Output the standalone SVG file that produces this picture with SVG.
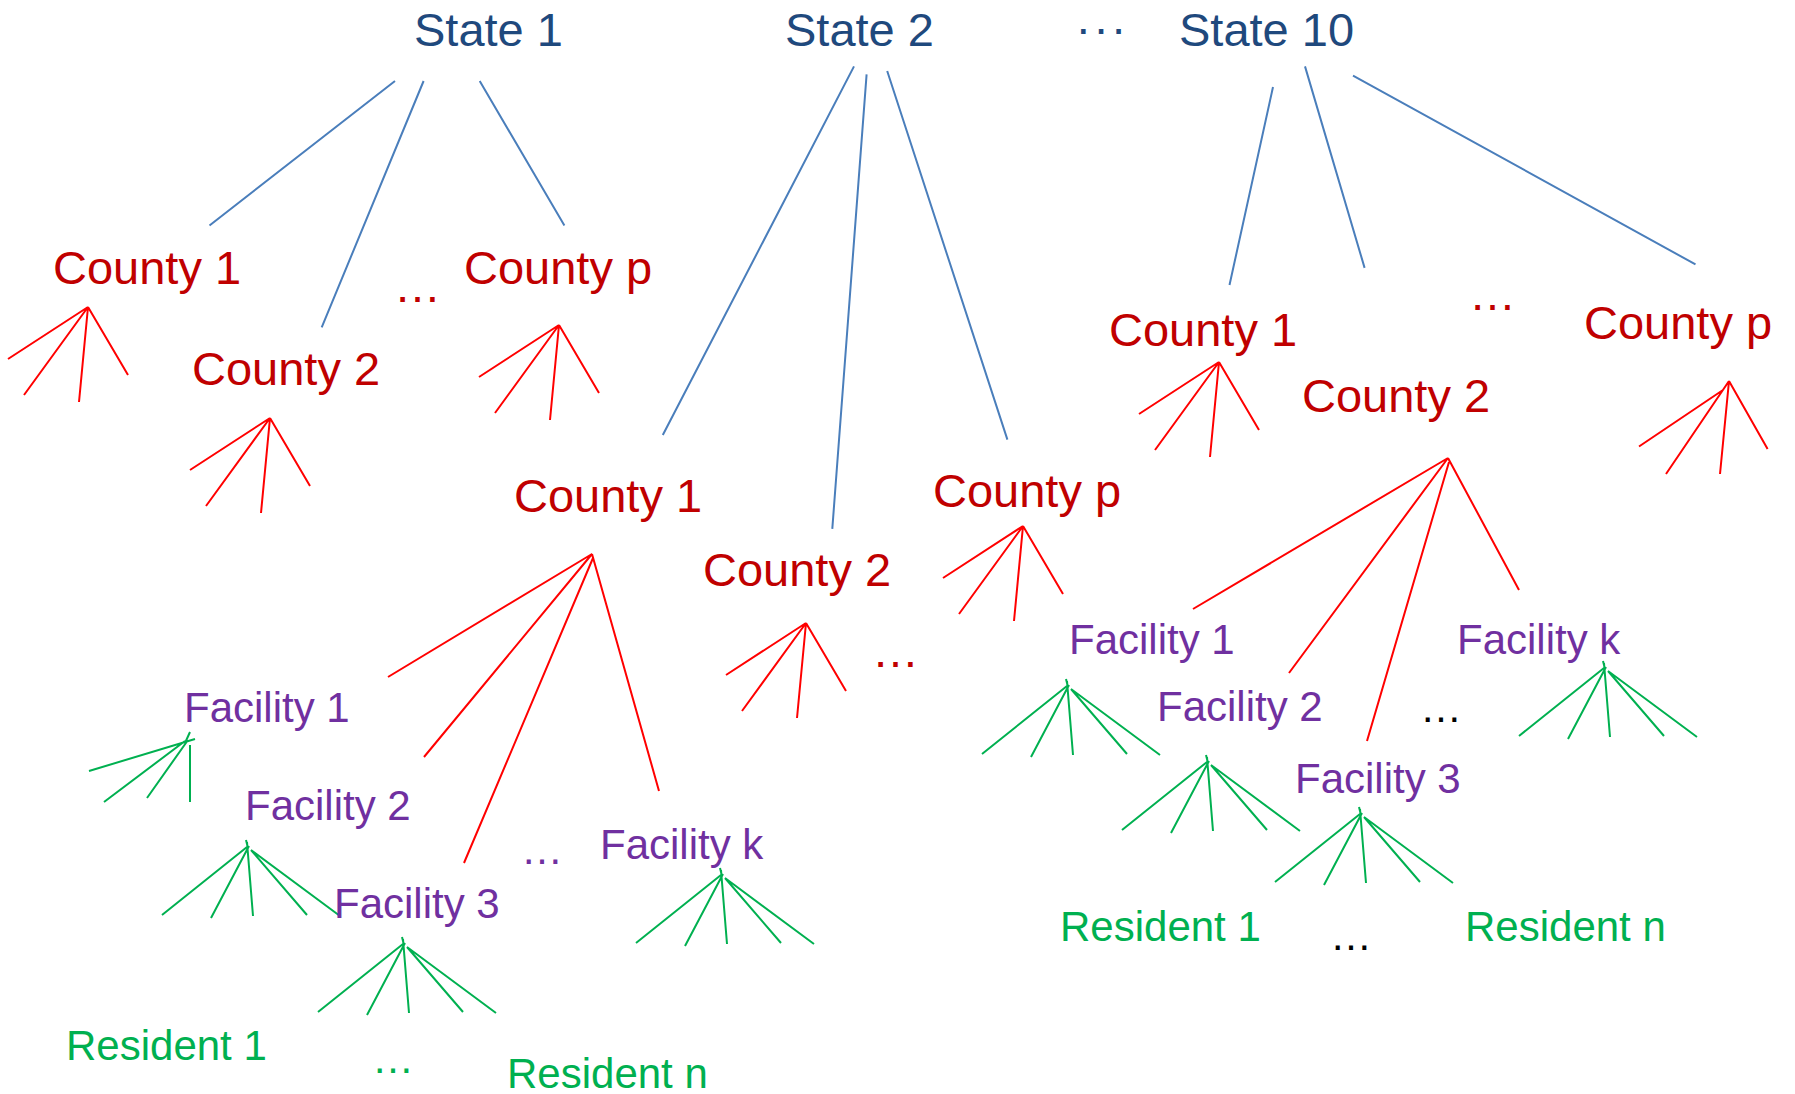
<svg xmlns="http://www.w3.org/2000/svg" width="1795" height="1094" viewBox="0 0 1795 1094">
<style>
text{font-family:"Liberation Sans",Arial,sans-serif}
.st{fill:#1F497D;font-size:47px}
.co{fill:#C00000;font-size:47px}
.fa{fill:#7030A0;font-size:42px}
.re{fill:#00B050;font-size:42px}
.dk{fill:#000000;font-size:42px}
.b{stroke:#4A7EBB;stroke-width:2;fill:none}
.r{stroke:#FF0000;stroke-width:2;fill:none}
.g{stroke:#00B050;stroke-width:2;fill:none}
</style>
<defs>
<path id="rfan" class="r" d="M0 0L-80 52M0 0L-64 88M0 0L-9 95M0 0L40 68"/>
<path id="gfan" class="g" d="M-1 -5L1 3M0 2L-85 70M2 1L-36 73M0 -3L6 71M4 5L60 70M4 5L93 71"/>
</defs>
<rect width="1795" height="1094" fill="#FFFFFF"/>
<g id="connectors">
<g id="state-links">
<path class="b" d="M395 81L209.5 225.5M423.6 81L321.7 327.4M479.7 81L564.4 225.5"/>
<path class="b" d="M854 66.4L662.8 435M866.6 74.4L832.3 528.9M887.2 71L1007.4 439.6"/>
<path class="b" d="M1273 87L1229.5 285M1305 66.4L1364.6 267.9M1353 75.6L1695.5 264.4"/>
</g>
<g id="county-links">
<use href="#rfan" transform="translate(88 307)"/>
<use href="#rfan" transform="translate(270 418)"/>
<use href="#rfan" transform="translate(559 325)"/>
<use href="#rfan" transform="translate(806 623)"/>
<use href="#rfan" transform="translate(1023 526)"/>
<use href="#rfan" transform="translate(1219 362)"/>
<path class="r" d="M592 554L388 677M592 554L424 757M593 558L464 863M592 554L659 791"/>
<path class="r" d="M1448 458L1193 609M1448 458L1289 673M1449 462L1367 741M1448 458L1519 590"/>
<path class="r" d="M1729 381L1767.6 449M1729 381L1720 474M1729 381L1666 474M1723 390L1639 446.5"/>
</g>
<g id="facility-links">
<path class="g" d="M190 732L185 743M89 771L195 739M104 802L185 741M147 798L188 740M190 802L190 745"/>
<use href="#gfan" transform="translate(247 845)"/>
<use href="#gfan" transform="translate(403 942)"/>
<use href="#gfan" transform="translate(721 873)"/>
<use href="#gfan" transform="translate(1067 684)"/>
<use href="#gfan" transform="translate(1207 760)"/>
<use href="#gfan" transform="translate(1360 812)"/>
<use href="#gfan" transform="translate(1604 666)"/>
</g>
</g>
<g id="state1"><text class="st" x="414" y="46">State 1</text></g>
<g id="state2"><text class="st" x="785" y="46">State 2</text></g>
<g id="state-dots"><text class="st" x="1075.5" y="43.5" letter-spacing="2">···</text></g>
<g id="state10"><text class="st" x="1179" y="46">State 10</text></g>

<g id="s1-county1"><text class="co" x="53" y="284">County 1</text></g>
<g id="s1-county2"><text class="co" x="192" y="385">County 2</text></g>
<g id="s1-dots"><text class="co" x="394" y="302">…</text></g>
<g id="s1-countyp"><text class="co" x="464" y="284">County p</text></g>

<g id="s2-county1"><text class="co" x="514" y="512">County 1</text></g>
<g id="s2-county2"><text class="co" x="703" y="586">County 2</text></g>
<g id="s2-dots"><text class="co" x="872" y="667">…</text></g>
<g id="s2-countyp"><text class="co" x="933" y="507">County p</text></g>

<g id="s10-county1"><text class="co" x="1109" y="346">County 1</text></g>
<g id="s10-county2"><text class="co" x="1302" y="412">County 2</text></g>
<g id="s10-dots"><text class="co" x="1469" y="310">…</text></g>
<g id="s10-countyp"><text class="co" x="1584" y="339">County p</text></g>

<g id="s2-facility1"><text class="fa" x="184" y="722">Facility 1</text></g>
<g id="s2-facility2"><text class="fa" x="245" y="820">Facility 2</text></g>
<g id="s2-facility3"><text class="fa" x="334" y="918">Facility 3</text></g>
<g id="s2-fdots"><text class="fa" x="521" y="864">…</text></g>
<g id="s2-facilityk"><text class="fa" x="600" y="859">Facility k</text></g>

<g id="s10-facility1"><text class="fa" x="1069" y="654">Facility 1</text></g>
<g id="s10-facility2"><text class="fa" x="1157" y="721">Facility 2</text></g>
<g id="s10-facility3"><text class="fa" x="1295" y="793">Facility 3</text></g>
<g id="s10-fdots"><text class="dk" x="1420" y="722">…</text></g>
<g id="s10-facilityk"><text class="fa" x="1457" y="654">Facility k</text></g>

<g id="s2-resident1"><text class="re" x="66" y="1060">Resident 1</text></g>
<g id="s2-rdots"><text class="re" x="372" y="1073">…</text></g>
<g id="s2-residentn"><text class="re" x="507" y="1088">Resident n</text></g>
<g id="s10-resident1"><text class="re" x="1060" y="941">Resident 1</text></g>
<g id="s10-rdots"><text class="dk" x="1330" y="950">…</text></g>
<g id="s10-residentn"><text class="re" x="1465" y="941">Resident n</text></g>
</svg>
